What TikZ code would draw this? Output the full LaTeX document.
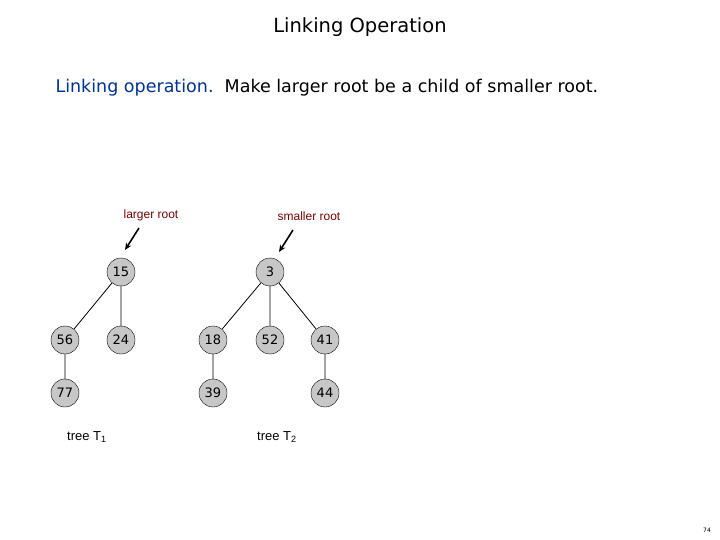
\documentclass[tikz,border=0pt]{standalone}
\usepackage{fontspec}
\setmainfont{DejaVu Sans}
\newfontfamily\arialfont{Liberation Sans}
\usepackage{tikz}
\usetikzlibrary{arrows.meta}
\definecolor{navyblue}{RGB}{0,51,153}
\definecolor{darkred}{RGB}{128,0,0}
\tikzset{
  heapnode/.style={circle,draw,fill=black!22,minimum size=28pt,inner sep=0pt,font=\fontsize{13}{13}\selectfont},
  rootlabel/.style={text=darkred,font=\arialfont\fontsize{12}{12}\selectfont},
  pointer/.style={line width=1.6pt,-{Stealth[length=7pt,width=6pt]}},
  treeedge/.style={line width=0.8pt}
}
\begin{document}
\begin{tikzpicture}[x=1pt,y=-1pt]
\useasboundingbox (0,0) rectangle (720,540);
\node at (360,27) {\fontsize{19.5}{19.5}\selectfont Linking Operation}; % title
\node[anchor=west] at (52,88) {\fontsize{17.5}{17.5}\selectfont\textcolor{navyblue}{Linking operation.}\ \ Make larger root be a child of smaller root.};
% tree T1
\node[heapnode] (n15) at (121,272) {15};
\node[heapnode] (n56) at (65,340) {56};
\node[heapnode] (n24) at (121,340) {24};
\node[heapnode] (n77) at (65,393) {77};
% tree T2
\node[heapnode] (n3) at (270,272) {3};
\node[heapnode] (n18) at (213,340) {18};
\node[heapnode] (n52) at (270,340) {52};
\node[heapnode] (n41) at (325,340) {41};
\node[heapnode] (n39) at (213,393) {39};
\node[heapnode] (n44) at (325,393) {44};
% edges
\draw[treeedge] (n15)--(n56) (n15)--(n24) (n56)--(n77);
\draw[treeedge] (n3)--(n18) (n3)--(n52) (n3)--(n41) (n18)--(n39) (n41)--(n44);
% pointers
\node[rootlabel] (lr) at (151,215) {larger root};
\node[rootlabel] (sr) at (309,216) {smaller root};
\coordinate (lrs) at (139,228);
\coordinate (lre) at (125,250);
\coordinate (srs) at (293,230);
\coordinate (sre) at (279,252);
\draw[pointer] (lrs)--(lre);
\draw[pointer] (srs)--(sre);
\node[font=\arialfont\fontsize{13}{13}\selectfont] (t1) at (87,437) {tree T\textsubscript{1}};
\node[font=\arialfont\fontsize{13}{13}\selectfont] (t2) at (277,437) {tree T\textsubscript{2}};
\node[font=\fontsize{6}{6}\selectfont] (pg) at (707,530) {74};
\end{tikzpicture}
\end{document}
